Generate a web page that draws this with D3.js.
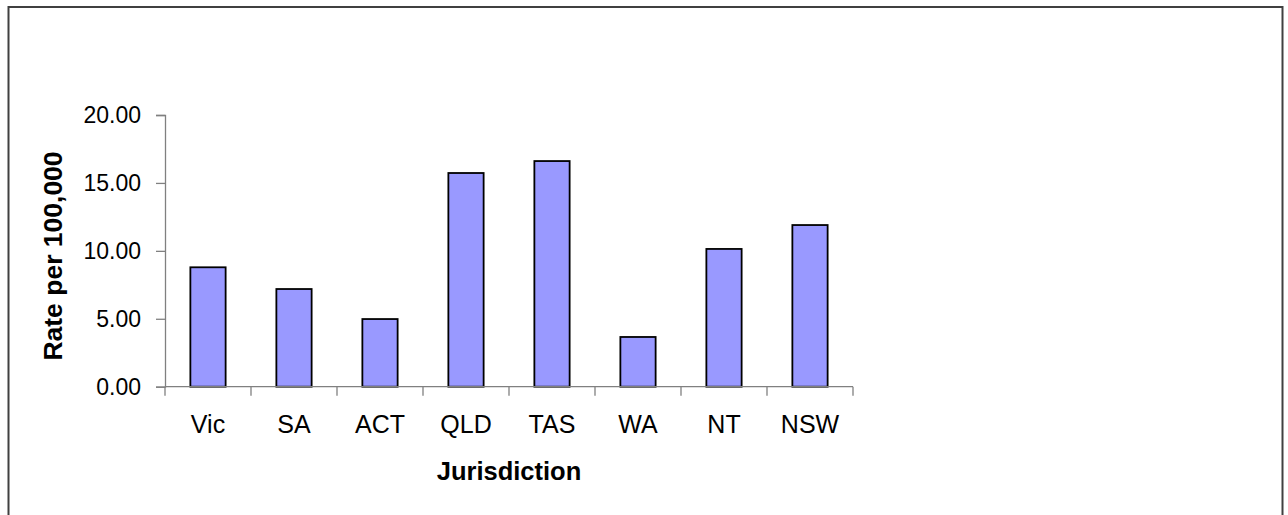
<!DOCTYPE html>
<html>
<head>
<meta charset="utf-8">
<script src="https://cdn.jsdelivr.net/npm/d3@7"></script>
<style>
  body { margin: 0; background: #fff; }
  svg { display: block; }
</style>
</head>
<body>
<script>
// chart data
var jurisdictions = ["Vic", "SA", "ACT", "QLD", "TAS", "WA", "NT", "NSW"];
var rates = [8.79, 7.19, 4.98, 15.73, 16.61, 3.66, 10.14, 11.90];
var yTicks = [0, 5, 10, 15, 20];

var width = 1288, height = 515;
var font = "Liberation Sans, Arial, sans-serif";

var svg = d3.select("body").append("svg")
    .attr("width", width)
    .attr("height", height);

// outer chart border (bottom edge runs off the picture)
svg.append("rect")
    .attr("x", 8.5)
    .attr("y", 7)
    .attr("width", 1274)
    .attr("height", 530)
    .style("fill", "#fff")
    .style("stroke", "#404040")
    .style("stroke-width", 2);

var x = d3.scaleBand()
    .domain(jurisdictions)
    .range([165, 853])
    .padding(0);

var y = d3.scaleLinear()
    .domain([0, 20])
    .range([386.7, 115]);

var barW = x.bandwidth() * 0.41;

svg.selectAll(".bar")
    .data(jurisdictions)
    .enter().append("rect")
    .attr("class", "bar")
    .attr("x", function(d) { return x(d) + (x.bandwidth() - barW) / 2; })
    .attr("y", function(d, i) { return y(rates[i]); })
    .attr("width", barW)
    .attr("height", function(d, i) { return y(0) - y(rates[i]); })
    .style("fill", "#9999ff")
    .style("stroke", "#000")
    .style("stroke-width", 1.8);

// y axis
var yAxis = svg.append("g")
    .attr("transform", "translate(165,0)")
    .call(d3.axisLeft(y).tickValues(yTicks).tickSize(9).tickPadding(15)
        .tickFormat(d3.format(".2f")));
yAxis.select(".domain").style("stroke", "#808080").style("stroke-width", 1.3);
yAxis.selectAll(".tick line").style("stroke", "#808080").style("stroke-width", 1.3);
yAxis.selectAll("text")
    .attr("font-family", font)
    .style("font-size", "23px")
    .style("fill", "#000");

// x axis, ticks sit between the categories
var xAxis = svg.append("g")
    .attr("transform", "translate(0," + y(0) + ")");
xAxis.append("line")
    .attr("x1", 165).attr("x2", 853)
    .style("stroke", "#808080")
    .style("stroke-width", 1.3);
var edges = jurisdictions.map(function(d) { return x(d); }).concat([x.range()[1]]);
xAxis.selectAll(".xtick")
    .data(edges)
    .enter().append("line")
    .attr("class", "xtick")
    .attr("x1", function(d) { return d; })
    .attr("x2", function(d) { return d; })
    .attr("y1", 0)
    .attr("y2", 9)
    .style("stroke", "#808080")
    .style("stroke-width", 1.3);
xAxis.selectAll(".xlabel")
    .data(jurisdictions)
    .enter().append("text")
    .attr("class", "xlabel")
    .attr("x", function(d) { return x(d) + x.bandwidth() / 2; })
    .attr("y", 46)
    .style("text-anchor", "middle")
    .attr("font-family", font)
    .style("font-size", "25px")
    .text(function(d) { return d; });

// axis titles
svg.append("text")
    .attr("x", 509)
    .attr("y", 480)
    .style("text-anchor", "middle")
    .attr("font-family", font)
    .style("font-size", "25.5px")
    .style("font-weight", "bold")
    .text("Jurisdiction");

svg.append("text")
    .attr("transform", "translate(62,256) rotate(-90)")
    .style("text-anchor", "middle")
    .attr("font-family", font)
    .style("font-size", "26.5px")
    .style("font-weight", "bold")
    .text("Rate per 100,000");
</script>
</body>
</html>
